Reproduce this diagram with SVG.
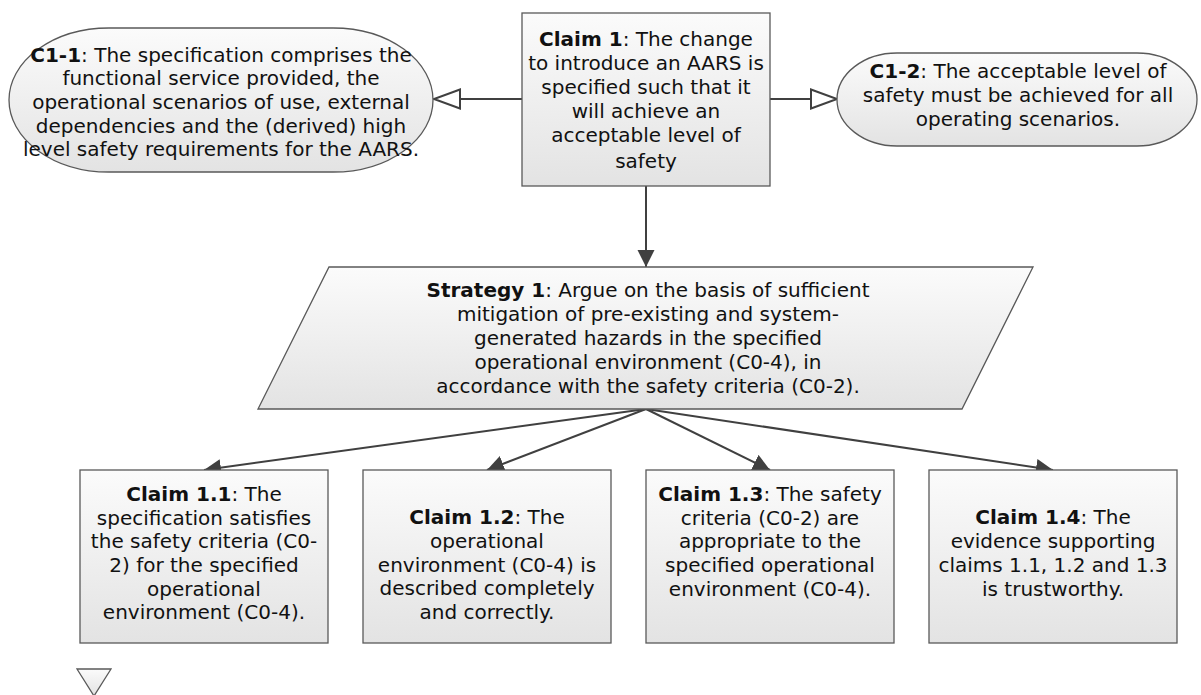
<svg xmlns="http://www.w3.org/2000/svg" width="1201" height="695" viewBox="0 0 1201 695">
  <defs>
    <linearGradient id="shade" x1="0" y1="0" x2="0" y2="1">
      <stop offset="0" stop-color="#fbfbfb"/>
      <stop offset="1" stop-color="#e3e3e3"/>
    </linearGradient>
    <marker id="solid" markerUnits="userSpaceOnUse" markerWidth="18" markerHeight="18" refX="17" refY="8.5" orient="auto">
      <path d="M0,0 L17,8.5 L0,17 Z" fill="#404040"/>
    </marker>
    <marker id="hollow" markerUnits="userSpaceOnUse" markerWidth="30" markerHeight="24" refX="27" refY="11" orient="auto">
      <path d="M1,1.5 L27,11 L1,20.5 Z" fill="#ffffff" stroke="#404040" stroke-width="2"/>
    </marker>
    <style>
      .shape { fill: url(#shade); stroke: #595959; stroke-width: 1.3; }
      .edge { fill: none; stroke: #404040; stroke-width: 2; }
      text { font-family: "DejaVu Sans", Verdana, sans-serif; font-size: 20px; fill: #111111; text-anchor: middle; }
      .b { font-weight: bold; }
    </style>
  </defs>

  <!-- connectors -->
  <g id="connectors">
    <line class="edge" x1="522" y1="99" x2="434" y2="99" marker-end="url(#hollow)"/>
    <line class="edge" x1="770" y1="99" x2="837" y2="99" marker-end="url(#hollow)"/>
    <line class="edge" x1="646" y1="186" x2="646" y2="267" marker-end="url(#solid)"/>
    <line class="edge" x1="646" y1="409" x2="204" y2="470" marker-end="url(#solid)"/>
    <line class="edge" x1="646" y1="409" x2="487" y2="470" marker-end="url(#solid)"/>
    <line class="edge" x1="646" y1="409" x2="770" y2="470" marker-end="url(#solid)"/>
    <line class="edge" x1="646" y1="409" x2="1053" y2="470" marker-end="url(#solid)"/>
  </g>

  <!-- context C1-1 -->
  <g id="c1-1">
    <rect class="shape" x="9" y="28" width="424" height="144" rx="100" ry="72"/>
    <text x="221" y="62"><tspan class="b">C1-1</tspan>: The specification comprises the</text>
    <text x="221" y="85">functional service provided, the</text>
    <text x="221" y="109">operational scenarios of use, external</text>
    <text x="221" y="133">dependencies and the (derived) high</text>
    <text x="221" y="156">level safety requirements for the AARS.</text>
  </g>

  <!-- top claim -->
  <g id="claim-1">
    <rect class="shape" x="522" y="13" width="248" height="173"/>
    <text x="646" y="46"><tspan class="b">Claim 1</tspan>: The change</text>
    <text x="646" y="70">to introduce an AARS is</text>
    <text x="646" y="94">specified such that it</text>
    <text x="646" y="118">will achieve an</text>
    <text x="646" y="142">acceptable level of</text>
    <text x="646" y="168">safety</text>
  </g>

  <!-- context C1-2 -->
  <g id="c1-2">
    <rect class="shape" x="837" y="53" width="360" height="93" rx="60" ry="46.5"/>
    <text x="1018" y="78"><tspan class="b">C1-2</tspan>: The acceptable level of</text>
    <text x="1018" y="102">safety must be achieved for all</text>
    <text x="1018" y="126">operating scenarios.</text>
  </g>

  <!-- strategy -->
  <g id="strategy-1">
    <polygon class="shape" points="329,267 1033,267 962,409 258,409"/>
    <text x="648" y="297"><tspan class="b">Strategy 1</tspan>: Argue on the basis of sufficient</text>
    <text x="648" y="321">mitigation of pre-existing and system-</text>
    <text x="648" y="345">generated hazards in the specified</text>
    <text x="648" y="369">operational environment (C0-4), in</text>
    <text x="648" y="393">accordance with the safety criteria (C0-2).</text>
  </g>

  <!-- sub-claims -->
  <g id="claim-1-1">
    <rect class="shape" x="80" y="470" width="248" height="173"/>
    <text x="204" y="501"><tspan class="b">Claim 1.1</tspan>: The</text>
    <text x="204" y="525">specification satisfies</text>
    <text x="204" y="548">the safety criteria (C0-</text>
    <text x="204" y="572">2) for the specified</text>
    <text x="204" y="596">operational</text>
    <text x="204" y="619">environment (C0-4).</text>
  </g>

  <g id="claim-1-2">
    <rect class="shape" x="363" y="470" width="248" height="173"/>
    <text x="487" y="524"><tspan class="b">Claim 1.2</tspan>: The</text>
    <text x="487" y="548">operational</text>
    <text x="487" y="572">environment (C0-4) is</text>
    <text x="487" y="595">described completely</text>
    <text x="487" y="619">and correctly.</text>
  </g>

  <g id="claim-1-3">
    <rect class="shape" x="646" y="470" width="248" height="173"/>
    <text x="770" y="501"><tspan class="b">Claim 1.3</tspan>: The safety</text>
    <text x="770" y="525">criteria (C0-2) are</text>
    <text x="770" y="548">appropriate to the</text>
    <text x="770" y="572">specified operational</text>
    <text x="770" y="596">environment (C0-4).</text>
  </g>

  <g id="claim-1-4">
    <rect class="shape" x="929" y="470" width="248" height="173"/>
    <text x="1053" y="524"><tspan class="b">Claim 1.4</tspan>: The</text>
    <text x="1053" y="548">evidence supporting</text>
    <text x="1053" y="572">claims 1.1, 1.2 and 1.3</text>
    <text x="1053" y="596">is trustworthy.</text>
  </g>

  <!-- undeveloped marker below claim 1.1 -->
  <g id="undeveloped">
    <polygon class="shape" points="77,669 111,669 94,696"/>
  </g>
</svg>
